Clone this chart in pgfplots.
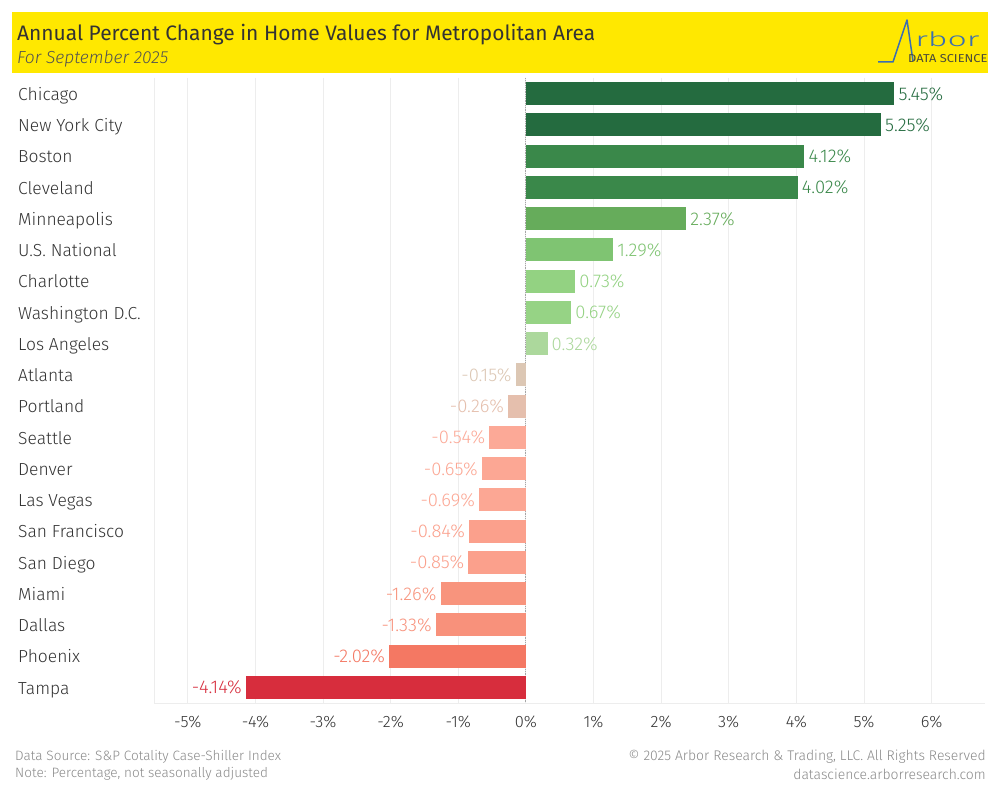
\documentclass[border=0pt]{standalone}
\usepackage{fontspec}
\setmainfont{Fira Sans}
\newfontfamily\lt{Fira Sans Light}
\usepackage{pgfplots}
\pgfplotsset{compat=1.18}

\definecolor{hdr}{HTML}{FFE800}
\definecolor{txt}{HTML}{333333}
\definecolor{foot}{HTML}{8A8A8A}
\definecolor{logo}{HTML}{3B6FB0}
\definecolor{logotxt}{HTML}{4A4A3A}
\definecolor{grd}{HTML}{EDEDED}
\definecolor{cA}{HTML}{246B3F}
\definecolor{cB}{HTML}{3A884A}
\definecolor{cC}{HTML}{66AC5B}
\definecolor{cD}{HTML}{7FC472}
\definecolor{cE}{HTML}{93D282}
\definecolor{cF}{HTML}{96D385}
\definecolor{cG}{HTML}{ACD89C}
\definecolor{cH}{HTML}{DCC7B4}
\definecolor{cI}{HTML}{E5BFAD}
\definecolor{cJ}{HTML}{FCA997}
\definecolor{cK}{HTML}{FCA794}
\definecolor{cL}{HTML}{FBA08C}
\definecolor{cM}{HTML}{F8947D}
\definecolor{cN}{HTML}{F8917B}
\definecolor{cO}{HTML}{F47863}
\definecolor{cP}{HTML}{D72D3D}

\pgfplotsset{hb/.style={xbar, bar width=23bp, bar shift=0pt, fill=#1, draw=none,
  nodes near coords style={text=#1}}}

\begin{document}
\begin{tikzpicture}
\path[use as bounding box, fill=white] (0bp,0bp) rectangle (1000bp,800bp);
\begin{scope}[x=1bp,y=1bp]
% header band
\fill[hdr] (12,727) rectangle (988,788);
\node[anchor=west, text=txt, inner sep=0pt] at (17,765.5)
  {\fontsize{21}{25}\selectfont Annual Percent Change in Home Values for Metropolitan Area};
\node[anchor=west, text=txt!85, inner sep=0pt] at (17,741.5)
  {\lt\fontsize{17.5}{20}\selectfont\itshape For September 2025};
% logo
\draw[logo, line width=1.5bp, line join=round] (878,738) -- (893,738) -- (907,780) -- (913,739);
\node[anchor=base west, text=logo, inner sep=0pt, xscale=1.7] at (915,753)
  {\lt\fontsize{20}{24}\selectfont rbor};
\node[anchor=west, text=logotxt, inner sep=0pt, xscale=1.12] at (908,741)
  {\fontsize{11.5}{13}\selectfont DATA SCIENCE};
% footer
\node[anchor=west, text=foot, inner sep=0pt] at (15,43)
  {\lt\fontsize{13.6}{16}\selectfont Data Source: S\&P Cotality Case-Shiller Index};
\node[anchor=west, text=foot, inner sep=0pt] at (15,26)
  {\lt\fontsize{13.6}{16}\selectfont Note: Percentage, not seasonally adjusted};
\node[anchor=east, text=foot, inner sep=0pt] at (986,43)
  {\lt\fontsize{14}{16}\selectfont © 2025 Arbor Research \& Trading, LLC. All Rights Reserved};
\node[anchor=east, text=foot, inner sep=0pt] at (986,26)
  {\lt\fontsize{14}{16}\selectfont datascience.arborresearch.com};
\end{scope}

\begin{axis}[
  at={(154bp,97bp)}, anchor=south west,
  scale only axis, width=831bp, height=625bp,
  xbar,
  xmin=-5.5, xmax=6.79,
  ymin=-0.5, ymax=19.5, y dir=reverse,
  xtick={-5,...,6},
  xticklabel={\pgfmathprintnumber{\tick}\%},
  ytick={0,...,19},
  yticklabels={Chicago,New York City,Boston,Cleveland,Minneapolis,U.S. National,Charlotte,Washington D.C.,Los Angeles,Atlanta,Portland,Seattle,Denver,Las Vegas,San Francisco,San Diego,Miami,Dallas,Phoenix,Tampa},
  /pgf/number format/assume math mode=true,
  major tick length=0pt,
  xmajorgrids, major grid style={grd, line width=0.8bp},
  axis x line*=bottom, axis y line*=left,
  axis line style={grd, line width=1bp, -},
  tick label style={text=txt, font=\lt\fontsize{16.5}{19}\selectfont},
  xticklabel style={yshift=-9bp},
  yticklabel style={font=\lt\fontsize{17.5}{20}\selectfont, anchor=west, xshift=-136bp, yshift=-2.5bp, inner xsep=0pt, text height=12bp, text depth=3.5bp},
  nodes near coords={\pgfmathprintnumber[fixed,fixed zerofill,precision=2,assume math mode=true]{\pgfplotspointmeta}\%},
  nodes near coords align={horizontal},
  every node near coord/.append style={font=\lt\fontsize{18.5}{21}\selectfont, inner xsep=4bp, yshift=-2bp, text height=12.5bp, text depth=3.5bp},
  clip=false,
]
\draw[densely dotted, gray!70, line width=0.8bp] (axis cs:0,-0.5) -- (axis cs:0,19.5);
\addplot[hb=cA] coordinates {(5.45,0)};
\addplot[hb=cA] coordinates {(5.25,1)};
\addplot[hb=cB] coordinates {(4.12,2)};
\addplot[hb=cB] coordinates {(4.02,3)};
\addplot[hb=cC] coordinates {(2.37,4)};
\addplot[hb=cD] coordinates {(1.29,5)};
\addplot[hb=cE] coordinates {(0.73,6)};
\addplot[hb=cF] coordinates {(0.67,7)};
\addplot[hb=cG] coordinates {(0.32,8)};
\addplot[hb=cH] coordinates {(-0.15,9)};
\addplot[hb=cI] coordinates {(-0.26,10)};
\addplot[hb=cJ] coordinates {(-0.54,11)};
\addplot[hb=cK] coordinates {(-0.65,12)};
\addplot[hb=cK] coordinates {(-0.69,13)};
\addplot[hb=cL] coordinates {(-0.84,14)};
\addplot[hb=cL] coordinates {(-0.85,15)};
\addplot[hb=cM] coordinates {(-1.26,16)};
\addplot[hb=cN] coordinates {(-1.33,17)};
\addplot[hb=cO] coordinates {(-2.02,18)};
\addplot[hb=cP] coordinates {(-4.14,19)};
\end{axis}
\end{tikzpicture}
\end{document}
